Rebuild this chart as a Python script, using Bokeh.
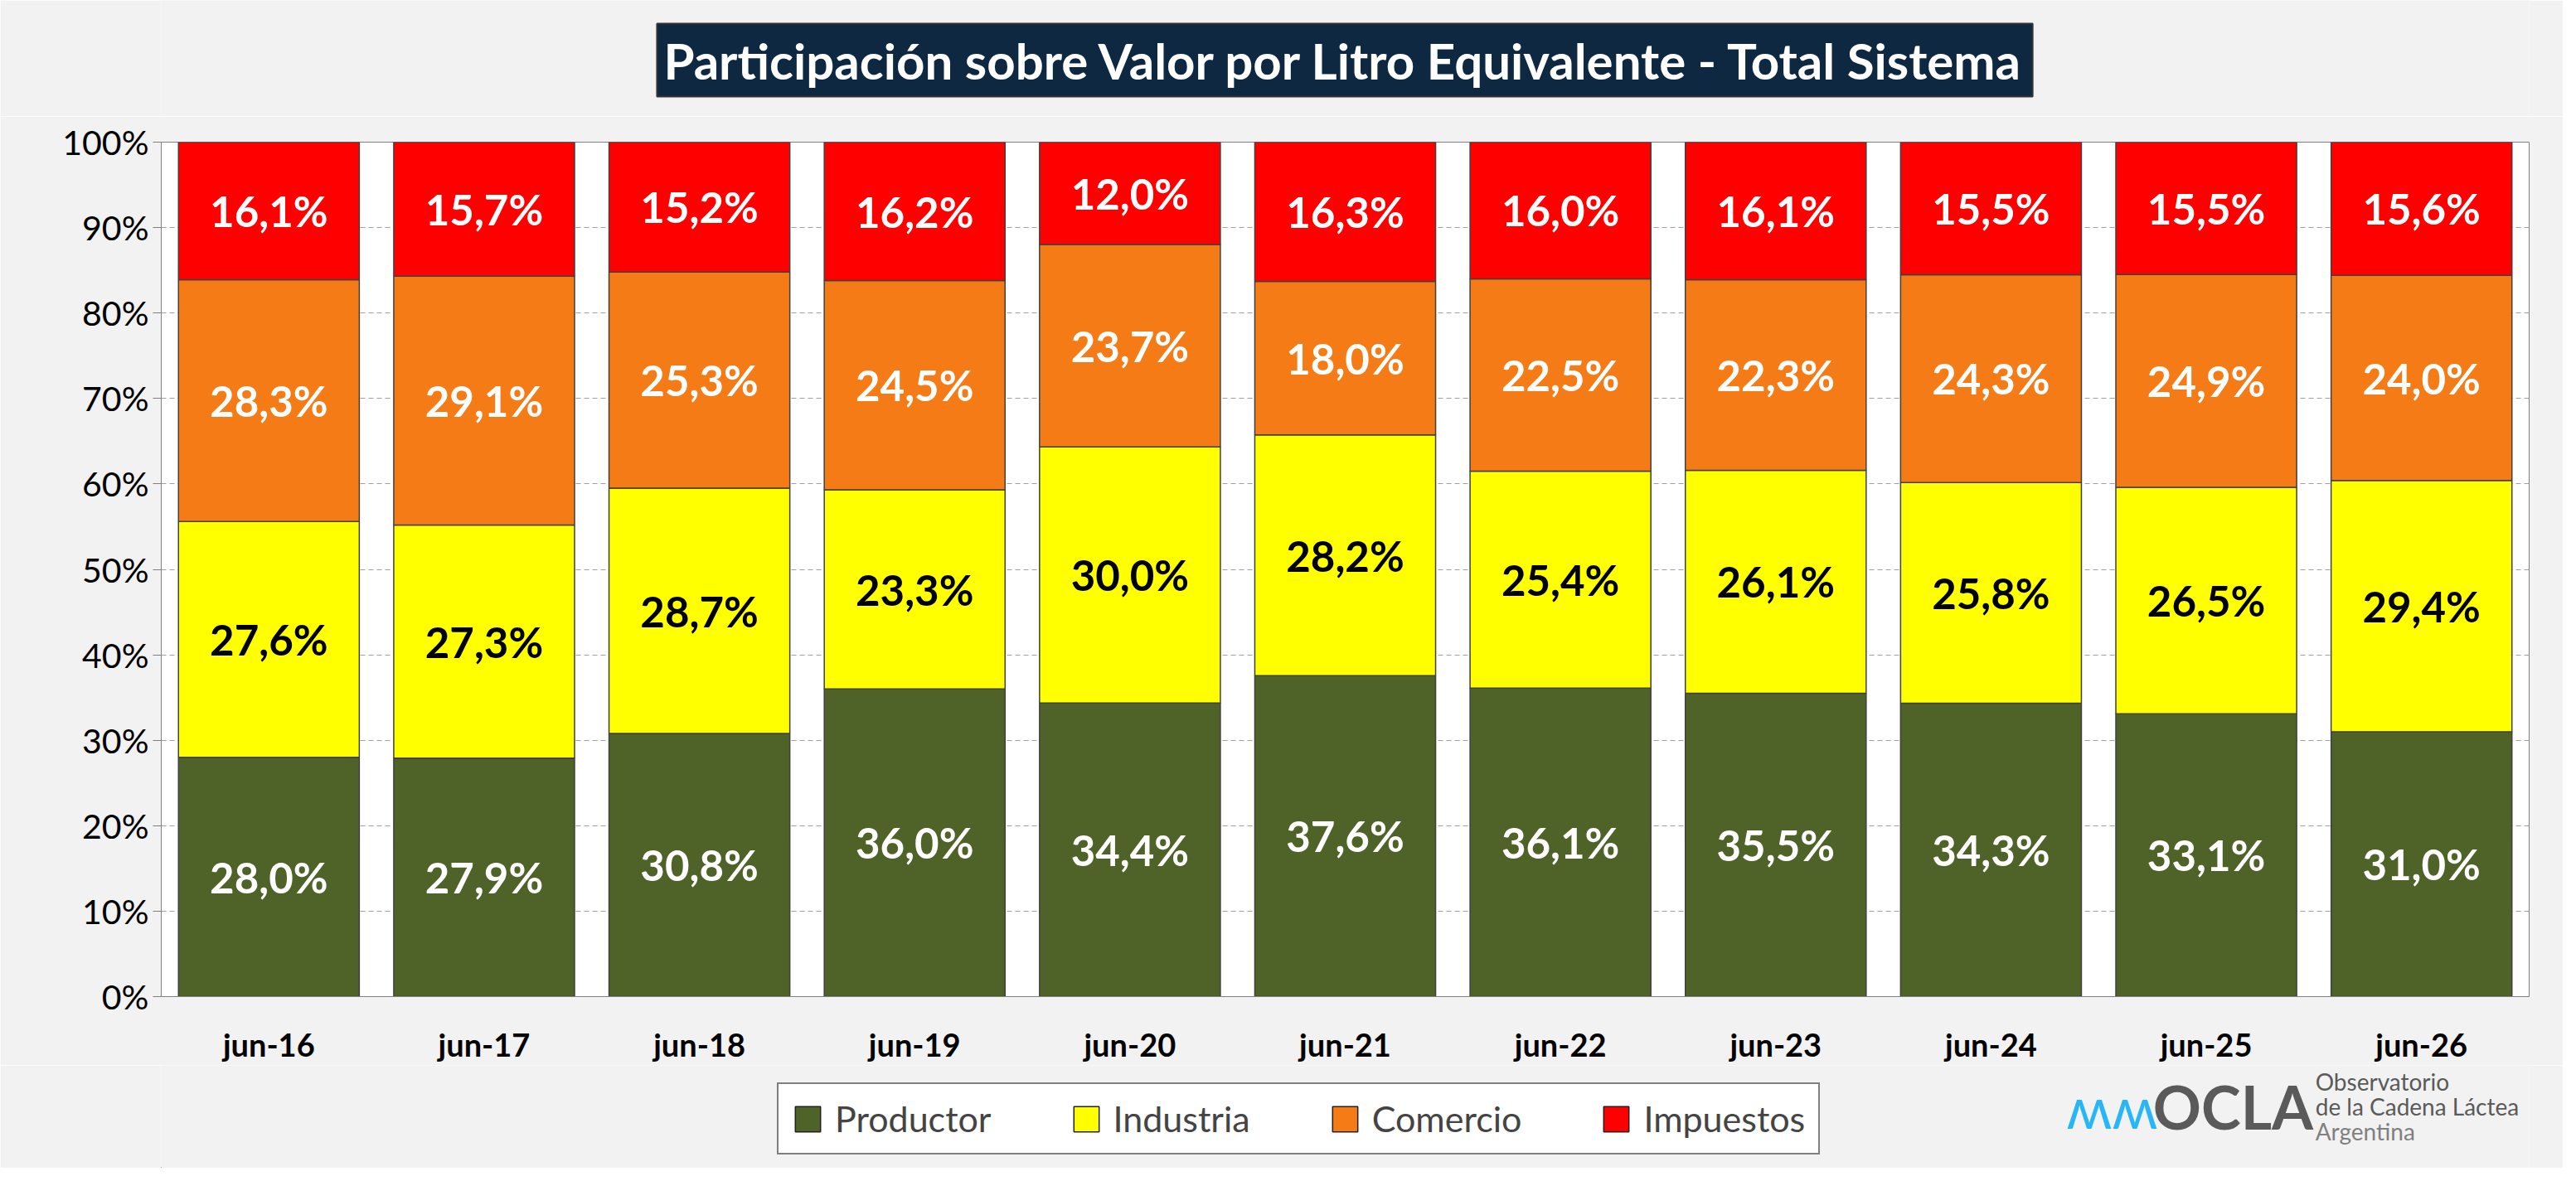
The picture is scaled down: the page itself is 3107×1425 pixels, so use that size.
from bokeh.plotting import figure
from bokeh.layouts import column
from bokeh.models import Label, Legend, LegendItem, FixedTicker, ColumnDataSource
from bokeh.core.properties import value
from bokeh.embed import file_html
from bokeh.resources import INLINE

cats = ["jun-16","jun-17","jun-18","jun-19","jun-20","jun-21","jun-22","jun-23","jun-24","jun-25","jun-26"]
productor = [28.0,27.9,30.8,36.0,34.4,37.6,36.1,35.5,34.3,33.1,31.0]
industria = [27.6,27.3,28.7,23.3,30.0,28.2,25.4,26.1,25.8,26.5,29.4]
comercio  = [28.3,29.1,25.3,24.5,23.7,18.0,22.5,22.3,24.3,24.9,24.0]
impuestos = [16.1,15.7,15.2,16.2,12.0,16.3,16.0,16.1,15.5,15.5,15.6]
series = [("Productor", productor, "#4f6228", "white"),
          ("Industria", industria, "#ffff00", "black"),
          ("Comercio", comercio, "#f47b16", "white"),
          ("Impuestos", impuestos, "#ff0000", "white")]
FONT = "Lato"
BG = "#f2f2f2"
W = 3091

def strip(h):
    f = figure(width=W, height=h, output_backend="svg", toolbar_location=None,
               x_range=(0, W), y_range=(0, h), min_border=0)
    f.axis.visible = False
    f.grid.visible = False
    f.outline_line_color = None
    f.background_fill_color = BG
    f.border_fill_color = BG
    return f

# top strip with title
top = strip(140)
top.add_layout(Label(x=1545, y=68, text="Participación sobre Valor por Litro Equivalente - Total Sistema",
                     text_font=FONT, text_font_style="bold", text_font_size="60px",
                     text_color="white", text_align="center", text_baseline="middle",
                     background_fill_color="#0e2841", border_line_color="#333333",
                     border_line_width=2, padding=8))

# main chart
p = figure(width=W, height=1145, output_backend="svg", toolbar_location=None,
           x_range=(-0.5, len(cats)-0.5), y_range=(0, 1),
           min_border_left=194, min_border_right=41, min_border_top=31, min_border_bottom=70)
p.background_fill_color = "white"
p.border_fill_color = BG
p.outline_line_color = "#808080"
p.xgrid.grid_line_color = None
p.ygrid.grid_line_color = "#a0a0a0"
p.ygrid.grid_line_dash = "6 4"
p.yaxis.ticker = FixedTicker(ticks=[i/10 for i in range(11)])
p.yaxis.major_label_overrides = {i/10: f"{i*10}%" for i in range(11)}
p.xaxis.ticker = FixedTicker(ticks=list(range(len(cats))))
p.xaxis.major_label_overrides = {i: c for i, c in enumerate(cats)}
for ax in (p.xaxis, p.yaxis):
    ax.major_label_text_font = FONT
    ax.major_label_text_color = "black"
    ax.axis_line_color = "#808080"
    ax.minor_tick_line_color = None
    ax.major_tick_line_color = "#808080"
p.yaxis.major_label_text_font_size = "41px"
p.xaxis.major_label_text_font_size = "38px"
p.xaxis.major_label_text_font_style = "bold"
p.xaxis.major_tick_line_color = None
p.xaxis.major_label_standoff = 28
p.yaxis.major_tick_in = 0
p.yaxis.major_tick_out = 10

x = list(range(len(cats)))
totals = [sum(v) for v in zip(productor, industria, comercio, impuestos)]
bottom = [0.0]*len(cats)
for name, vals, col, tcol in series:
    frac = [v/t for v, t in zip(vals, totals)]
    tp = [b+f for b, f in zip(bottom, frac)]
    mid = [(b+t)/2 for b, t in zip(bottom, tp)]
    src = ColumnDataSource(dict(x=x, b=bottom, t=tp, m=mid,
                                lab=[f"{v:.1f}%".replace(".", ",") for v in vals]))
    p.vbar(x="x", bottom="b", top="t", width=0.84, source=src,
           fill_color=col, line_color="#404040", line_width=1.5)
    p.text(x="x", y="m", text="lab", source=src, text_align="center", text_baseline="middle",
           text_font=value(FONT), text_font_style="bold", text_font_size="51px", text_color=tcol)
    bottom = tp

# bottom strip with legend and logo
bot = strip(124)
items = []
for name, vals, col, tcol in series:
    r = bot.vbar(x=[-100], top=[-90], bottom=[-100], width=10,
                 fill_color=col, line_color="#202020", line_width=1.5)
    items.append(LegendItem(label=name, renderers=[r]))
leg = Legend(items=items, orientation="horizontal", location=(743, 16),
             label_text_font=FONT, label_text_font_size="43px",
             glyph_width=38, glyph_height=38, spacing=95, padding=16, margin=0,
             border_line_color="black", border_line_width=2,
             background_fill_color="white", label_standoff=14)
bot.add_layout(leg, "center")
bot.add_layout(Label(x=2487, y=75, text="ʍʍ", text_font=FONT, text_font_size="70px",
                     text_color="#29b6f6", text_baseline="middle"))
bot.add_layout(Label(x=2600, y=75, text="OCLA", text_font=FONT, text_font_style="bold",
                     text_font_size="72px", text_color="#5a5a5a", text_baseline="middle"))
for i, t in enumerate(["Observatorio", "de la Cadena Láctea", "Argentina"]):
    bot.add_layout(Label(x=2812, y=105-i*30, text=t, text_font=FONT, text_font_size="28px",
                         text_color="#5a5a5a" if i < 2 else "#808080", text_baseline="middle"))

layout = column(top, p, bot, spacing=0)
open("out.html", "w").write(file_html(layout, INLINE))
